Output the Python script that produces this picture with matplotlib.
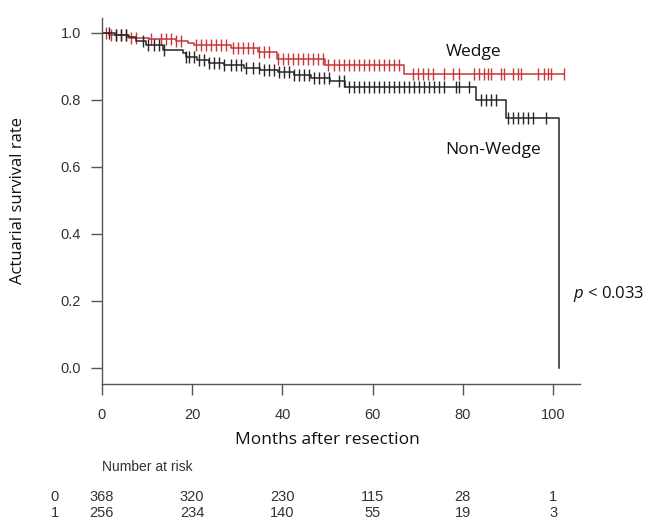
import matplotlib
matplotlib.use("Agg")
import matplotlib.pyplot as plt
import matplotlib.transforms as mtransforms
import numpy as np

plt.rcParams["mathtext.fontset"] = "custom"
plt.rcParams["mathtext.it"] = "Open Sans:italic"
plt.rcParams["mathtext.rm"] = "Open Sans"

# step curves (time in months, survival)
wedge_t = [0, 1.5, 6, 10.5, 16.4, 19, 20.5, 28.6, 34.6, 38.8, 49.5, 67, 102.5]
wedge_s = [1.0, 0.993, 0.986, 0.981, 0.976, 0.97, 0.963, 0.954, 0.942, 0.922, 0.903, 0.877, 0.877]

nonwedge_t = [0, 3, 5.8, 7.5, 9.8, 13.5, 18, 18.6, 21, 23.7, 27, 31.5, 35, 39, 42.6,
              46.3, 50.5, 54, 83, 89.5, 101.3]
nonwedge_s = [1.0, 0.994, 0.988, 0.976, 0.964, 0.949, 0.94, 0.928, 0.919, 0.91, 0.904,
              0.895, 0.89, 0.884, 0.873, 0.866, 0.858, 0.84, 0.80, 0.745, 0.0]

# censored observations
wedge_cens = [0.9, 2.0, 3.1, 4.2, 5.3, 6.4, 7.5, 10.9, 13.1, 14.2, 15.3, 16.4, 17.5, 20.8,
              22.0, 23.1, 24.2, 25.3, 26.4, 27.5, 29.0, 30.2, 31.3, 32.4, 33.5, 34.8, 35.9,
              37.0, 39.0, 40.1, 41.2, 42.4, 43.5, 44.6, 45.7, 46.8, 47.9, 49.0, 50.1, 51.4,
              52.6, 53.7, 54.8, 55.9, 57.0, 58.1, 59.2, 60.3, 61.4, 62.5, 63.6, 64.7, 65.9,
              69.0, 70.1, 71.2, 72.3, 73.4, 75.8, 77.8, 79.2, 82.5, 83.6, 84.7, 85.6, 86.3,
              88.5, 89.2, 91.1, 92.2, 92.9, 96.7, 98.0, 98.9, 99.6, 102.5]
nonwedge_cens = [1.6, 3.1, 4.2, 5.3, 9.1, 10.2, 11.5, 12.6, 13.7, 18.6, 19.3, 20.4, 21.5,
                 22.6, 23.7, 24.8, 25.9, 27.0, 28.6, 29.7, 30.8, 31.9, 33.5, 34.8, 35.9,
                 37.0, 38.1, 39.2, 40.4, 41.5, 42.6, 43.7, 44.8, 45.9, 47.0, 48.1, 49.2,
                 50.3, 52.5, 53.7, 54.8, 55.9, 57.0, 58.1, 59.2, 60.3, 61.4, 62.5, 63.6,
                 64.7, 65.9, 67.0, 68.1, 69.2, 70.3, 71.4, 72.5, 73.6, 74.7, 75.8, 78.5,
                 79.2, 81.4, 84.0, 85.1, 86.3, 87.4, 90.0, 91.1, 92.2, 93.4, 94.5, 95.6, 98.4]

# number at risk table
risk_times = [0, 20, 40, 60, 80, 100]
risk_labels = ["0", "1"]
risk_0 = [368, 320, 230, 115, 28, 1]
risk_1 = [256, 234, 140, 55, 19, 3]

RED = "#c8363a"
BLACK = "#262626"
AXC = "#555555"
TXT = "#333333"


def surv_at(times, t, s):
    idx = np.searchsorted(t, times, side="right") - 1
    return np.asarray(s)[idx]


fig = plt.figure(figsize=(6.57, 5.26), dpi=100)
ax = fig.add_axes([0.155, 0.27, 0.728, 0.696])

ax.step(wedge_t, wedge_s, where="post", color=RED, lw=1.1)
ax.plot(wedge_cens, surv_at(wedge_cens, wedge_t, wedge_s), ls="none", marker="|",
        ms=8, mew=1.0, color=RED)
ax.step(nonwedge_t, nonwedge_s, where="post", color=BLACK, lw=1.1)
ax.plot(nonwedge_cens, surv_at(nonwedge_cens, nonwedge_t, nonwedge_s), ls="none",
        marker="|", ms=8, mew=1.0, color=BLACK)

ax.set_xlim(0, 106)
ax.set_ylim(-0.048, 1.045)
ax.set_xticks(risk_times)
ax.set_yticks([0.0, 0.2, 0.4, 0.6, 0.8, 1.0])
ax.set_yticklabels(["0.0", "0.2", "0.4", "0.6", "0.8", "1.0"])
for sp in ["top", "right"]:
    ax.spines[sp].set_visible(False)
for sp in ["left", "bottom"]:
    ax.spines[sp].set_color(AXC)
    ax.spines[sp].set_linewidth(1.0)
ax.tick_params(axis="both", colors=AXC, length=8, width=1.0, labelcolor=TXT,
               labelsize=10.5)
ax.tick_params(axis="x", pad=9)
ax.tick_params(axis="y", pad=7)
for lab in ax.get_xticklabels() + ax.get_yticklabels():
    lab.set_family("Liberation Sans")

ax.text(76.3, 0.943, "Wedge", fontsize=12.5, family="Open Sans", va="center", color="#111")
ax.text(76.0, 0.651, "Non-Wedge", fontsize=12.5, family="Open Sans", va="center",
        color="#111")
ax.text(104.4, 0.221, r"$p$ < 0.033", fontsize=12, family="Open Sans", va="center",
        color="#111", clip_on=False)

fig.text(0.027, 0.618, "Actuarial survival rate", rotation=90, ha="center",
         va="center", fontsize=12, family="Open Sans", color="#111")

tr = mtransforms.blended_transform_factory(ax.transData, fig.transFigure)
fig.text(50, 1 - 440 / 526, "Months after resection", transform=tr, ha="center",
         va="center", fontsize=12.5, family="Open Sans", color="#111")
fig.text(0, 1 - 467 / 526, "Number at risk", transform=tr, ha="left", va="center",
         fontsize=10, family="Liberation Sans", color=TXT)
for row, (lab, vals) in enumerate(zip(risk_labels, [risk_0, risk_1])):
    y = 1 - (497 + 16 * row) / 526
    fig.text(-10.4, y, lab, transform=tr, ha="center", va="center", fontsize=10.5,
             family="Liberation Sans", color=TXT)
    for t, v in zip(risk_times, vals):
        fig.text(t, y, str(v), transform=tr, ha="center", va="center", fontsize=10.5,
                 family="Liberation Sans", color=TXT)

fig.savefig("out.png", dpi=100)
